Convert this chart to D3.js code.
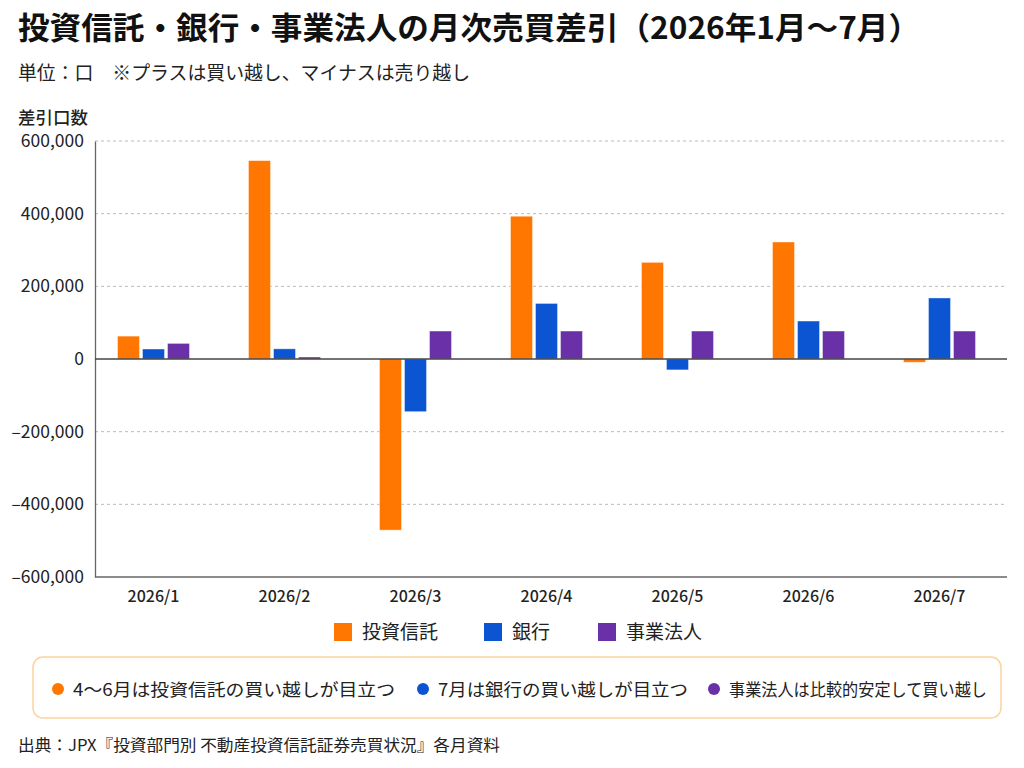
<!DOCTYPE html>
<html lang="ja">
<head>
<meta charset="utf-8">
<script src="https://cdn.jsdelivr.net/npm/d3@7"></script>
<style>
  html, body { margin: 0; padding: 0; background: #fff; }
  svg { display: block; font-family: "Noto Sans CJK JP", "Noto Sans", sans-serif; }
</style>
</head>
<body>
<svg id="chart" width="1024" height="768"></svg>
<script>
// Data (口, ＋は買い越し / －は売り越し)
const months = ['2026/1', '2026/2', '2026/3', '2026/4', '2026/5', '2026/6', '2026/7'];
const seriesNames = ['投資信託', '銀行', '事業法人'];
const seriesColors = ['#ff7700', '#0b55d3', '#6a30a8'];
const toushin = [63000, 546000, -471000, 393000, 266000, 322000, -9000];
const ginkou = [27500, 28000, -145000, 153000, -30000, 104500, 168000];
const jigyou = [43000, 5500, 77000, 77000, 77000, 77000, 77000];
const yTicks = [-600000, -400000, -200000, 0, 200000, 400000, 600000];
const notes = [
  { text: '4～6月は投資信託の買い越しが目立つ', color: '#ff7700' },
  { text: '7月は銀行の買い越しが目立つ', color: '#0b55d3' },
  { text: '事業法人は比較的安定して買い越し', color: '#6a30a8' }
];

const seriesValues = [toushin, ginkou, jigyou];
const rows = months.map((m, i) => ({
  month: m,
  values: seriesNames.map((s, j) => ({ key: s, value: seriesValues[j][i], color: seriesColors[j] }))
}));

const svg = d3.select('#chart');

// Layout
const plot = { left: 95, right: 1007, top: 141, bottom: 577 };

// Title block
svg.append('text')
  .attr('x', 18).attr('y', 39)
  .attr('font-size', 31).attr('font-weight', 700).attr('fill', '#111')
  .attr('textLength', 902).attr('lengthAdjust', 'spacingAndGlyphs')
  .text('投資信託・銀行・事業法人の月次売買差引（2026年1月～7月）');

svg.append('text')
  .attr('x', 18).attr('y', 80)
  .attr('font-size', 18.8).attr('fill', '#222')
  .attr('textLength', 452).attr('lengthAdjust', 'spacingAndGlyphs')
  .text('単位：口　※プラスは買い越し、マイナスは売り越し');

svg.append('text')
  .attr('x', 18).attr('y', 124)
  .attr('font-size', 17.5).attr('font-weight', 500).attr('fill', '#222')
  .text('差引口数');

// Scales
const x0 = d3.scaleBand()
  .domain(months)
  .range([88, 1005])
  .padding(0);

const x1 = d3.scaleBand()
  .domain(seriesNames)
  .range([x0.bandwidth() / 2 - 36, x0.bandwidth() / 2 + 36])
  .paddingInner(0.12);

const y = d3.scaleLinear()
  .domain([-600000, 600000])
  .range([plot.bottom, plot.top]);

// Grid lines
svg.append('g')
  .selectAll('line')
  .data(yTicks.filter(t => t !== 0 && t !== -600000))
  .join('line')
  .attr('x1', plot.left).attr('x2', plot.right)
  .attr('y1', d => y(d)).attr('y2', d => y(d))
  .attr('stroke', '#bbb')
  .attr('stroke-width', 1)
  .attr('stroke-dasharray', '3,3');

// Y axis
const yAxis = svg.append('g')
  .attr('transform', `translate(${plot.left},0)`)
  .call(d3.axisLeft(y).tickValues(yTicks).tickSize(0).tickPadding(11));
yAxis.select('.domain').attr('stroke', '#666').attr('stroke-width', 1.3);
yAxis.selectAll('text')
  .attr('font-size', 17.5).attr('fill', '#222')
  .attr('font-family', '"Noto Sans CJK JP", sans-serif')
  // narrow dash instead of the full-width minus glyph
  .text(d => (d < 0 ? '–' : '') + d3.format(',')(Math.abs(d)));

// X axis (bottom line)
const xAxis = svg.append('g')
  .attr('transform', `translate(0,${plot.bottom})`)
  .call(d3.axisBottom(x0).tickSize(0).tickPadding(14));
xAxis.select('.domain').remove();
xAxis.selectAll('text')
  .attr('font-size', 16).attr('font-weight', 500).attr('fill', '#222')
  .attr('font-family', '"Noto Sans CJK JP", sans-serif');

svg.append('line')
  .attr('x1', plot.left).attr('x2', plot.right)
  .attr('y1', plot.bottom).attr('y2', plot.bottom)
  .attr('stroke', '#666').attr('stroke-width', 1.3);

// Bars
const groups = svg.append('g')
  .selectAll('g')
  .data(rows)
  .join('g')
  .attr('transform', d => `translate(${x0(d.month)},0)`);

groups.selectAll('rect')
  .data(d => d.values)
  .join('rect')
  .attr('x', d => x1(d.key))
  .attr('width', x1.bandwidth())
  .attr('y', d => y(Math.max(0, d.value)))
  .attr('height', d => Math.abs(y(d.value) - y(0)))
  .attr('fill', d => d.color)
  .attr('stroke', '#fff')
  .attr('stroke-opacity', 0.5)
  .attr('stroke-width', 0.8);

// Zero line
svg.append('line')
  .attr('x1', plot.left).attr('x2', plot.right)
  .attr('y1', y(0)).attr('y2', y(0))
  .attr('stroke', '#444').attr('stroke-width', 1.5);

// Legend
const legendPos = [334, 484, 598];
const legend = svg.append('g')
  .selectAll('g')
  .data(seriesNames)
  .join('g')
  .attr('transform', (d, i) => `translate(${legendPos[i]},623)`);
legend.append('rect')
  .attr('width', 18).attr('height', 18)
  .attr('fill', (d, i) => seriesColors[i]);
legend.append('text')
  .attr('x', 28).attr('y', 16)
  .attr('font-size', 19).attr('fill', '#222')
  .text(d => d);

// Note box
svg.append('rect')
  .attr('x', 33).attr('y', 657)
  .attr('width', 968).attr('height', 61)
  .attr('rx', 10).attr('ry', 10)
  .attr('fill', '#fff')
  .attr('stroke', '#fbd39e').attr('stroke-width', 1.5);

const notePos = [58, 423, 714];
const noteWidths = [322, 250, 258];
const noteItems = svg.append('g')
  .selectAll('g')
  .data(notes)
  .join('g')
  .attr('transform', (d, i) => `translate(${notePos[i]},689)`);
noteItems.append('circle')
  .attr('r', 6)
  .attr('fill', d => d.color);
noteItems.append('text')
  .attr('x', 15).attr('y', 6.5)
  .attr('font-size', 17.5).attr('fill', '#222')
  .attr('textLength', (d, i) => noteWidths[i]).attr('lengthAdjust', 'spacingAndGlyphs')
  .text(d => d.text);

// Source
svg.append('text')
  .attr('x', 18).attr('y', 751)
  .attr('font-size', 16).attr('fill', '#222')
  .attr('textLength', 482).attr('lengthAdjust', 'spacingAndGlyphs')
  .text('出典：JPX『投資部門別 不動産投資信託証券売買状況』各月資料');
</script>
</body>
</html>
